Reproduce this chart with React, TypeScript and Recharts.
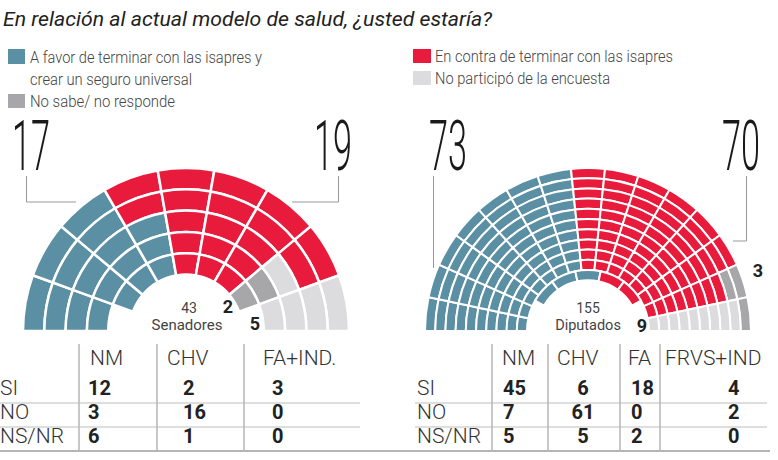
import React from 'react';
import { PieChart, Pie, Cell } from 'recharts';

// ---------- DATA ----------
const TITLE = 'En relación al actual modelo de salud, ¿usted estaría?';
const LEGEND_LABELS = [
  ['A favor de terminar con las isapres y', 'crear un seguro universal'],
  ['En contra de terminar con las isapres'],
  ['No sabe/ no responde'],
  ['No participó de la encuesta'],
];
const CATEGORY_COLORS = ['#5b8fa3', '#e81b3c', '#a7a7a9', '#dcdcde'];

// Senate seats per ring (outer -> inner), by category
const SENATE_BLUE = [3, 3, 4, 4, 3];
const SENATE_RED = [5, 5, 3, 3, 3];
const SENATE_DARK = [0, 0, 0, 1, 1];
const SENATE_LIGHT = [1, 1, 2, 1, 0];
const SENATE_TOTALS = [17, 19, 2, 5];
const SENATE_TOTAL = 43;
const SENATE_NAME = 'Senadores';

// Chamber of deputies seats per ring (outer -> inner), by category
const DIP_BLUE = [7, 7, 7, 7, 7, 7, 7, 7, 7, 7, 3];
const DIP_RED = [6, 6, 7, 7, 7, 7, 7, 7, 7, 7, 2];
const DIP_DARK = [2, 1, 0, 0, 0, 0, 0, 0, 0, 0, 0];
const DIP_LIGHT = [0, 1, 1, 1, 1, 1, 1, 1, 1, 1, 0];
const DIP_TOTALS = [73, 70, 3, 9];
const DIP_TOTAL = 155;
const DIP_NAME = 'Diputados';

// Tables
const TABLE_ROWS = ['SI', 'NO', 'NS/NR'];
const SENATE_PARTIES = ['NM', 'CHV', 'FA+IND.'];
const SENATE_SI = [12, 2, 3];
const SENATE_NO = [3, 16, 0];
const SENATE_NSNR = [6, 1, 0];
const DIP_PARTIES = ['NM', 'CHV', 'FA', 'FRVS+IND'];
const DIP_SI = [45, 6, 18, 4];
const DIP_NO = [7, 61, 0, 2];
const DIP_NSNR = [5, 5, 2, 0];

// ---------- helpers ----------
type Seat = { value: number; cat: number };
function buildRing(counts: number[]): Seat[] {
  const out: Seat[] = [];
  counts.forEach((n, ci) => {
    for (let k = 0; k < n; k++) out.push({ value: 1, cat: ci });
  });
  return out;
}

const FONT = 'Roboto, "Open Sans", sans-serif';

function Hemicycle(props: {
  blue: number[]; red: number[]; dark: number[]; light: number[];
  cx: number; cy: number; outer: number; step: number; stroke: number;
  innerStart: number; innerEnd: number; keyPrefix: string;
}) {
  const { blue, red, dark, light, cx, cy, outer, step, stroke, innerStart, innerEnd, keyPrefix } = props;
  const n = blue.length;
  return blue.map((_, r) => {
    const data = buildRing([blue[r], red[r], dark[r], light[r]]);
    const oR = outer - step * r;
    const iR = oR - step;
    const last = r === n - 1;
    return (
      <Pie
        key={keyPrefix + r}
        data={data}
        dataKey="value"
        cx={cx}
        cy={cy}
        innerRadius={iR}
        outerRadius={oR}
        startAngle={last ? innerStart : 180}
        endAngle={last ? innerEnd : 0}
        stroke="#ffffff"
        strokeWidth={stroke}
        isAnimationActive={false}
        label={false}
        labelLine={false}
      >
        {data.map((d, i) => (
          <Cell key={i} fill={CATEGORY_COLORS[d.cat]} />
        ))}
      </Pie>
    );
  });
}

function BigNumber(props: { x: number; value: number }) {
  return (
    <text
      transform={`translate(${props.x},170) scale(0.49,1)`}
      x={0}
      y={0}
      fontSize={70}
      fontWeight={300}
      fill="#1a1a1a"
      fontFamily={FONT}
    >
      {props.value}
    </text>
  );
}

function Table(props: {
  parties: string[]; rows: number[][]; labelX: number;
  headerX: number[]; valueX: number[]; valueAnchor: ('start' | 'middle')[];
  vlines: number[]; hx1: number; hx2: number;
}) {
  const { parties, rows, labelX, headerX, valueX, valueAnchor, vlines, hx1, hx2 } = props;
  const rowY = [395, 419, 443];
  return (
    <g>
      {vlines.map((x, i) => (
        <line key={'v' + i} x1={x} x2={x} y1={344} y2={451} stroke="#b5b5b5" strokeWidth={1.5} />
      ))}
      <line x1={hx1} x2={hx2} y1={403} y2={403} stroke="#bdbdbd" strokeWidth={1.2} />
      <line x1={hx1} x2={hx2} y1={427} y2={427} stroke="#bdbdbd" strokeWidth={1.2} />
      {parties.map((p, i) => (
        <text key={'h' + i} x={headerX[i]} y={365} fontSize={21} fontWeight={300} fill="#333" fontFamily={FONT}>{p}</text>
      ))}
      {TABLE_ROWS.map((r, ri) => (
        <text key={'r' + ri} x={labelX} y={rowY[ri]} fontSize={21} fontWeight={300} fill="#333" fontFamily={FONT}>{r}</text>
      ))}
      {rows.map((vals, ri) =>
        vals.map((v, ci) => (
          <text key={'c' + ri + '_' + ci} x={valueX[ci]} y={rowY[ri]} textAnchor={valueAnchor[ci]} fontSize={20} fontWeight={700} fill="#222" fontFamily={FONT}>{v}</text>
        ))
      )}
    </g>
  );
}

export default function App() {
  return (
    <div style={{ position: 'fixed', left: 0, top: 0, width: 778, height: 460, background: '#fff', overflow: 'hidden' }}>
      <div style={{ position: 'absolute', left: 0, top: 0 }}>
        <PieChart width={778} height={460} margin={{ top: 0, right: 0, bottom: 0, left: 0 }}>
          {Hemicycle({
            blue: SENATE_BLUE, red: SENATE_RED, dark: SENATE_DARK, light: SENATE_LIGHT,
            cx: 186, cy: 331, outer: 163, step: 21.3, stroke: 2.5, innerStart: 160, innerEnd: 20, keyPrefix: 's',
          })}
          {Hemicycle({
            blue: DIP_BLUE, red: DIP_RED, dark: DIP_DARK, light: DIP_LIGHT,
            cx: 588, cy: 331, outer: 163, step: 10.2, stroke: 2, innerStart: 150, innerEnd: 30, keyPrefix: 'd',
          })}
        </PieChart>
      </div>
      <svg width={778} height={460} style={{ position: 'absolute', left: 0, top: 0, pointerEvents: 'none' }}>
        {/* Title */}
        <text x={3} y={26} fontSize={20} fontStyle="italic" fill="#222" fontFamily={FONT} textLength={489} lengthAdjust="spacingAndGlyphs">{TITLE}</text>

        {/* Legend */}
        <rect x={8} y={49} width={17} height={15} fill={CATEGORY_COLORS[0]} />
        <text x={30} y={63} fontSize={16} fontWeight={300} fill="#444" fontFamily={FONT} textLength={232} lengthAdjust="spacingAndGlyphs">{LEGEND_LABELS[0][0]}</text>
        <text x={30} y={85} fontSize={16} fontWeight={300} fill="#444" fontFamily={FONT} textLength={162} lengthAdjust="spacingAndGlyphs">{LEGEND_LABELS[0][1]}</text>
        <rect x={8} y={94} width={17} height={14} fill={CATEGORY_COLORS[2]} />
        <text x={30} y={107} fontSize={16} fontWeight={300} fill="#444" fontFamily={FONT} textLength={145} lengthAdjust="spacingAndGlyphs">{LEGEND_LABELS[2][0]}</text>
        <rect x={413} y={49} width={18} height={14} fill={CATEGORY_COLORS[1]} />
        <text x={435} y={62} fontSize={16} fontWeight={300} fill="#444" fontFamily={FONT} textLength={238} lengthAdjust="spacingAndGlyphs">{LEGEND_LABELS[1][0]}</text>
        <rect x={413} y={71} width={18} height={14} fill={CATEGORY_COLORS[3]} />
        <text x={435} y={84} fontSize={16} fontWeight={300} fill="#444" fontFamily={FONT} textLength={175} lengthAdjust="spacingAndGlyphs">{LEGEND_LABELS[3][0]}</text>

        {/* Big totals */}
        <BigNumber x={12} value={SENATE_TOTALS[0]} />
        <BigNumber x={314} value={SENATE_TOTALS[1]} />
        <BigNumber x={429} value={DIP_TOTALS[0]} />
        <BigNumber x={722} value={DIP_TOTALS[1]} />

        {/* Leader lines */}
        <polyline points="26.5,176 26.5,202 76,202" fill="none" stroke="#999" strokeWidth={1} />
        <polyline points="338.5,176 338.5,202 292,202" fill="none" stroke="#999" strokeWidth={1} />
        <polyline points="433.5,176 433.5,268" fill="none" stroke="#999" strokeWidth={1} />
        <polyline points="746.5,176 746.5,241 733,241" fill="none" stroke="#999" strokeWidth={1} />

        {/* Center labels senate */}
        <text x={189} y={313} textAnchor="middle" fontSize={14} fill="#444" fontFamily={FONT}>{SENATE_TOTAL}</text>
        <text x={187} y={330} textAnchor="middle" fontSize={15} fill="#444" fontFamily={FONT}>{SENATE_NAME}</text>
        <text x={228} y={313} textAnchor="middle" fontSize={18} fontWeight={700} fill="#222" fontFamily={FONT}>{SENATE_TOTALS[2]}</text>
        <text x={255} y={330} textAnchor="middle" fontSize={18} fontWeight={700} fill="#222" fontFamily={FONT}>{SENATE_TOTALS[3]}</text>

        {/* Center labels deputies */}
        <text x={588} y={313} textAnchor="middle" fontSize={14} fill="#444" fontFamily={FONT}>{DIP_TOTAL}</text>
        <text x={588} y={330} textAnchor="middle" fontSize={14.5} fill="#444" fontFamily={FONT}>{DIP_NAME}</text>
        <text x={642} y={332} textAnchor="middle" fontSize={18} fontWeight={700} fill="#222" fontFamily={FONT}>{DIP_TOTALS[3]}</text>
        <text x={758} y={277} textAnchor="middle" fontSize={18} fontWeight={700} fill="#222" fontFamily={FONT}>{DIP_TOTALS[2]}</text>

        {/* Tables */}
        <Table
          parties={SENATE_PARTIES}
          rows={[SENATE_SI, SENATE_NO, SENATE_NSNR]}
          labelX={0}
          headerX={[90, 167, 263]}
          valueX={[88, 183, 272]}
          valueAnchor={['start', 'start', 'start']}
          vlines={[79, 157, 244]}
          hx1={0}
          hx2={360}
        />
        <Table
          parties={DIP_PARTIES}
          rows={[DIP_SI, DIP_NO, DIP_NSNR]}
          labelX={417}
          headerX={[502, 557, 628, 665]}
          valueX={[503, 583, 631, 728]}
          valueAnchor={['start', 'middle', 'start', 'start']}
          vlines={[492, 548, 620, 660]}
          hx1={415}
          hx2={767}
        />
        <line x1={0} x2={770} y1={451} y2={451} stroke="#b5b5b5" strokeWidth={2} />
      </svg>
    </div>
  );
}
